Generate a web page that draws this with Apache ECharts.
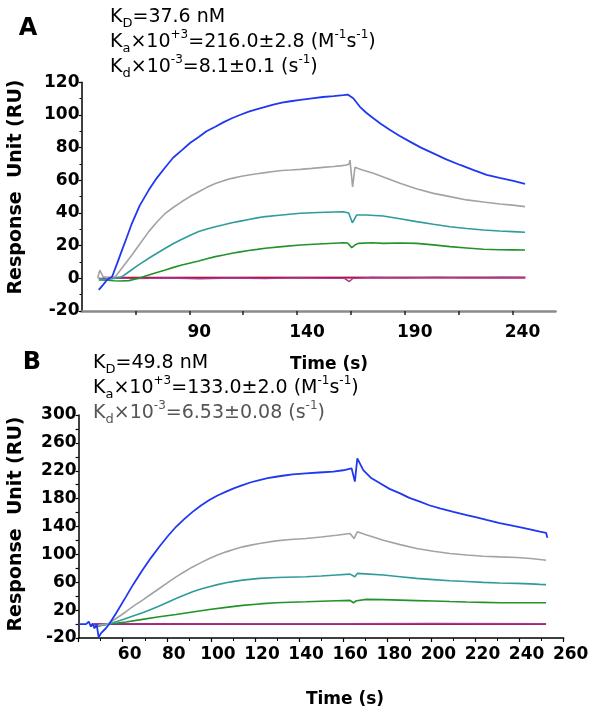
<!DOCTYPE html>
<html><head><meta charset="utf-8">
<script src="https://cdn.jsdelivr.net/npm/echarts@6/dist/echarts.min.js"></script>
<style>html,body{margin:0;padding:0;background:#fff}#c{width:601px;height:717px}</style>
</head><body><div id="c"></div>
<script>
// ---------- Panel A data (time s, response RU) ----------
const tBlueA = [48,50,51.8,53,54.2,56.5,58.8,61,63.4,67,71.2,75,78.9,82.5,86.6,90.5,94.4,98,102.1,106,109.8,113.5,117.6,121.5,125.3,129,133,137,141.5,147,152,157,161.5,163.5,166.1,169.2,172,175.4,179,183.2,187.5,192.4,197.5,203.3,209,215.7,222,228,234,240.4,245.8];
const vBlueA = [-7.1,-4,-1,0,1,9,17.3,25,33.7,44.5,54,61.5,68,73.8,78.5,83,86.5,90,92.8,95.6,98,100,102,103.6,105,106.3,107.6,108.4,109.2,110.2,111,111.6,112.2,112.5,110.2,105,101.5,98,94.5,90.8,87.3,83.7,80,76.5,73,69.4,66.2,63.3,61.5,59.6,57.8];
const tGrayA = [47.5,48.5,50,52.6,55.7,59.5,63.4,67.3,71.2,75,78.9,82.7,86.6,90.5,94.4,98.2,102.1,106,109.8,113.7,117.6,121.5,125.3,129,133,137,141.5,147,152,157,161,163,164.2,164.6,165.2,165.8,166.9,170,175.4,181,187.8,195,203.3,211,218.7,226.5,234.2,240,245.8];
const vGrayA = [0,5,1,0,1,7.5,14.3,21.5,28.6,34.5,39.8,43.5,47,50.2,53,55.7,58,59.8,61.2,62.3,63.3,64,64.7,65.4,66,66.3,66.7,67.3,67.9,68.5,69,69.4,70,72.4,64,56,68,66.5,64.3,61.5,58.2,55,52,50,48,46.7,45.5,44.8,43.9];
const tTealA = [48,50,52.6,55.7,58.8,62.5,66.5,72.7,78.9,82.7,86.6,90.5,94.4,98.2,102.1,106,109.8,113.7,117.6,121.5,125.3,133,141.5,150,157,161.5,164,165.7,167.7,172,180,187.8,195.5,203.3,211,218.7,226.5,234,240,245.8];
const vTealA = [0,-1,-0.6,0,1,4.5,8.2,13.5,18.4,21.3,23.9,26.4,28.6,30.2,31.6,32.8,34,35,36,37,37.8,38.8,39.8,40.3,40.6,40.8,40,34,38.8,38.8,38.2,36.5,34.7,33.1,31.6,30.5,29.6,29,28.6,28.2];
const tGreenA = [48,49.5,52,55,58,62,66.5,71.2,75,78.9,82.7,86.6,90.5,94.4,98.2,102.1,106,109.8,113.7,117.6,121.5,125.3,133,141.5,150,157,161.5,163.5,165.4,167,168.5,175,180,187.8,195.5,203.3,211,218.7,226.5,234,240,245.8];
const vGreenA = [-1,-1,-1.2,-1.5,-1.6,-1.4,0,2,3.6,5.1,6.7,8.2,9.4,10.6,12,13.3,14.3,15.3,16.2,17,17.7,18.4,19.4,20.4,21,21.5,21.8,21.6,18.8,20.5,21.4,21.8,21.4,21.6,21.4,20.5,19.4,18.6,17.8,17.5,17.4,17.3];
const tRedA = [50,246];
const vRedA = [0.3,0.5];
const tMagA = [48,55,65,80,95,110,125,140,155,162,164.3,166,175,190,205,220,235,245.8];
const vMagA = [0,0.3,-0.2,0.2,-0.3,0.2,-0.2,0.3,0,0,-2,0,0.5,0.3,0.6,0.3,0.5,0.4];

// ---------- Panel B data ----------
const tBlueB = [40,43.4,44.6,45.6,46.4,47.1,48.2,49.1,50.2,52.4,53.9,57,61.5,65,69,72.8,76.6,80.4,84.2,88,91.7,95.5,99.3,103,106.9,110.6,114.4,118.2,122,125.7,129.5,133.3,137.1,143.1,149,155.5,160,163.8,165.3,166.4,169.1,172.5,176.7,181,185.8,190,194.8,199,203.9,210,216,220.5,225,231,237.2,241,244.7,249.2,252,252.6];
const vBlueB = [0,0,3.5,-3.7,1.1,-6.1,-0.9,-19,-13,-6,0,15.6,39.4,58,77.6,95,111,126,139.6,151,161,170,177.9,184.5,190,195,199.4,203.5,206.6,209.3,211.4,213.2,214.8,216.2,217.5,218.7,220.7,223.5,204.4,237.8,221,210,202,194,187.6,181,175.6,170.5,166,161,156.5,153,149.4,145,140.8,138.5,136,132.7,131,124];
const tGrayB = [46,47.5,50,53,57,61.5,65,69,72.8,76.6,80.4,84.2,88,91.7,95.5,99.3,103,106.9,110.6,114.4,118.2,122,129.5,136,143.1,150,157,163.1,164.9,166.4,170,178.2,185.8,193.3,200.9,208.4,216,223.5,231,238.7,245,249.2,252];
const vGrayB = [0,-3,-1,0,8,17.7,26,34.4,42.8,51,59.5,67.8,75,82,88.2,94,99,103.6,107.3,110.8,113.3,115.5,119.4,121.3,122.7,125,127.5,129.9,122.7,132.3,128.5,120.3,114,108.4,104.5,101.2,99,97.4,96.4,95.5,94,92.6,91.5];
const tTealB = [46,47.5,50,53.9,57.7,61.5,65.3,69,72.8,76.6,80.4,84.2,88,91.7,95.5,99.3,103,106.9,110.6,114.4,122,130,143.1,150,157,163.1,165.3,166.4,170,178.2,185.8,193.3,200.9,208.4,216,223.5,231,238.7,245,249.2,252];
const vTealB = [0,-4,-2,0,4,8.1,12.2,16.3,21,25.8,31.3,36.8,41.8,46.4,50.2,53.6,56.6,59.3,61.3,63.1,65.5,66.8,67.9,69,70.5,71.7,67.9,72.7,72,70.3,68,65.5,63.8,62.2,61,59.8,59,58.4,57.7,57,56.6];
const tGreenB = [46,47.5,50,53.9,61.5,69,76.6,84.2,91.7,99.3,106.9,114.4,122,129.5,136,143.1,150,157,163.1,164.6,166,170.6,178,185.8,193.3,200.9,208.4,216,223.5,231.1,240,249.2,252];
const vGreenB = [0,-5,-2,0,3,6.7,10.4,13.8,17.4,21,24,26.8,28.9,30.6,31.4,32,32.8,33.5,34,30.6,33.5,35.4,35,34.4,33.7,33,32.3,31.6,31.1,30.6,30.6,30.6,30.6];
const tRedB = [47,252];
const vRedB = [0,0];
const tMagB = [47,80,120,160,200,252];
const vMagB = [0.5,0.3,0.6,0.4,0.7,0.5];

// ---------- axis ticks / labels ----------
const xTicksA = [65,90,115,140,165,190,215,240];
const xLabelsA = [90,140,190,240];
const xLabelsB = [60,80,100,120,140,160,180,200,220,240,260];
const yLabelsB = [-20,20,60,100,140,180,220,260,300];

const C = {blue:'#2038f2', gray:'#a3a3a3', teal:'#2f9b9b', green:'#23922a', red:'#b3103c', mag:'#a23a95'};
const pairs = (t,v) => t.map((x,i)=>[x,v[i]]);
const FONT = '"DejaVu Sans", "Liberation Sans", sans-serif';

function line(name, t, v, color, gi, w) {
  return {type:'line', name, xAxisIndex:gi, yAxisIndex:gi, data:pairs(t,v), showSymbol:false,
    lineStyle:{color, width:w||1.6}, itemStyle:{color}, animation:false, silent:true, z:2};
}
const lab = {color:'#000', fontFamily:FONT, fontWeight:'bold', fontSize:17};

const chart = echarts.init(document.getElementById('c'), null, {renderer:'canvas'});
const rich = {
  n:{fontSize:19, lineHeight:26, fontFamily:FONT, fill:'#000', verticalAlign:'middle'},
  sub:{fontSize:13, lineHeight:13, fontFamily:FONT, fill:'#000', verticalAlign:'bottom'},
  sup:{fontSize:12, lineHeight:12, fontFamily:FONT, fill:'#000', verticalAlign:'top'}
};
const richG = {
  n:Object.assign({}, rich.n, {fill:'#555'}),
  sub:Object.assign({}, rich.sub, {fill:'#555'}),
  sup:Object.assign({}, rich.sup, {fill:'#555'})
};
function txt(x, y, text, r) {
  return {type:'text', x, y, silent:true, style:{text, rich:r||rich, align:'left', verticalAlign:'middle', fill:'#000', fontSize:19, fontFamily:FONT}};
}
function plain(x, y, text, size, rot, align) {
  return {type:'text', x, y, rotation:rot||0, silent:true,
    style:{text, align:align||'center', verticalAlign:'middle', fill:'#000', fontSize:size, fontWeight:'bold', fontFamily:FONT}};
}

chart.setOption({
  backgroundColor:'#fff',
  animation:false,
  grid:[
    {left:81.5, right:45.4, top:82.3, bottom:406},
    {left:78.6, right:37.3, top:415, bottom:79}
  ],
  xAxis:[
    {type:'value', gridIndex:0, min:40, max:260, interval:25,
      axisLine:{show:true, onZero:false, lineStyle:{color:'#8a8a8a', width:2.5}},
      axisTick:{show:true, customValues:xTicksA, length:4, lineStyle:{color:'#222', width:1.5}},
      axisLabel:Object.assign({customValues:xLabelsA, margin:13, padding:[0,0,0,20]}, lab),
      splitLine:{show:false}},
    {type:'value', gridIndex:1, min:40, max:260, interval:20,
      axisLine:{show:true, onZero:false, lineStyle:{color:'#000', width:1.5}},
      axisTick:{show:true, length:4, lineStyle:{color:'#000', width:1.2}},
      minorTick:{show:true, splitNumber:2, length:3, lineStyle:{color:'#000', width:1}},
      axisLabel:Object.assign({customValues:xLabelsB, margin:8, padding:[0,0,0,14]}, lab),
      splitLine:{show:false}, minorSplitLine:{show:false}}
  ],
  yAxis:[
    {type:'value', gridIndex:0, min:-20, max:120, interval:20,
      axisLine:{show:true, onZero:false, lineStyle:{color:'#000', width:1.5}},
      axisTick:{show:true, length:3, lineStyle:{color:'#000', width:1.2}},
      minorTick:{show:true, splitNumber:2, length:2, lineStyle:{color:'#000'}},
      axisLabel:Object.assign({margin:2}, lab),
      splitLine:{show:false}, minorSplitLine:{show:false}},
    {type:'value', gridIndex:1, min:-20, max:300, interval:20,
      axisLine:{show:true, onZero:false, lineStyle:{color:'#000', width:1.5}},
      axisTick:{show:true, length:3, lineStyle:{color:'#000', width:1.2}},
      axisLabel:Object.assign({customValues:yLabelsB, margin:2}, lab),
      splitLine:{show:false}}
  ],
  series:[
    line('redA', tRedA, vRedA, C.red, 0, 2),
    line('magA', tMagA, vMagA, C.mag, 0, 1.4),
    line('greenA', tGreenA, vGreenA, C.green, 0),
    line('tealA', tTealA, vTealA, C.teal, 0),
    line('grayA', tGrayA, vGrayA, C.gray, 0),
    line('blueA', tBlueA, vBlueA, C.blue, 0, 1.8),
    line('redB', tRedB, vRedB, C.red, 1, 2),
    line('magB', tMagB, vMagB, C.mag, 1, 1.4),
    line('greenB', tGreenB, vGreenB, C.green, 1),
    line('tealB', tTealB, vTealB, C.teal, 1),
    line('grayB', tGrayB, vGrayB, C.gray, 1),
    line('blueB', tBlueB, vBlueB, C.blue, 1, 1.8)
  ],
  graphic:[
    plain(28, 29, 'A', 24),
    plain(32, 363, 'B', 24),
    txt(110, 17, '{n|K}{sub|D}{n|=37.6 nM}'),
    txt(110, 42, '{n|K}{sub|a}{n|×10}{sup|+3}{n|=216.0±2.8 (M}{sup|-1}{n|s}{sup|-1}{n|)}'),
    txt(110, 67, '{n|K}{sub|d}{n|×10}{sup|-3}{n|=8.1±0.1 (s}{sup|-1}{n|)}'),
    txt(93, 363, '{n|K}{sub|D}{n|=49.8 nM}'),
    txt(93, 388, '{n|K}{sub|a}{n|×10}{sup|+3}{n|=133.0±2.0 (M}{sup|-1}{n|s}{sup|-1}{n|)}'),
    txt(93, 413, '{n|K}{sub|d}{n|×10}{sup|-3}{n|=6.53±0.08 (s}{sup|-1}{n|)}', richG),
    plain(16.5, 187, 'Response  Unit (RU)', 19, Math.PI/2),
    plain(16.5, 524, 'Response  Unit (RU)', 19, Math.PI/2),
    plain(329, 365, 'Time (s)', 17),
    plain(345, 700, 'Time (s)', 17)
  ]
});
</script>
</body></html>
